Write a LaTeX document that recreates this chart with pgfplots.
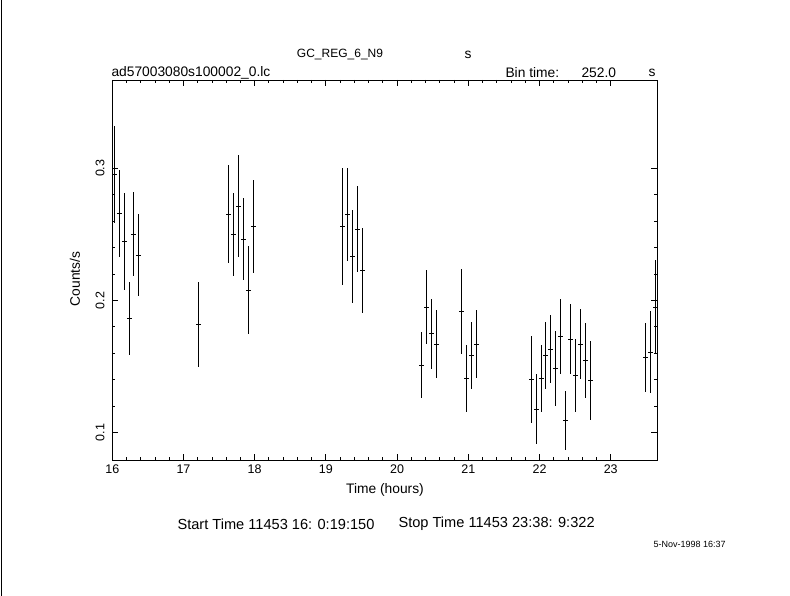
\documentclass[border=0pt]{standalone}
\usepackage{pgfplots}
\pgfplotsset{compat=1.18}
\usepackage{pgfplotstable}
\usepackage{fontspec}
\setmainfont{Liberation Sans}
\pgfplotstableread{
t v ex ey
16.028 0.2955 0.035 0.0367
16.098 0.2660 0.035 0.0328
16.169 0.2448 0.035 0.0367
16.235 0.1865 0.035 0.0275
16.301 0.2503 0.035 0.0315
16.371 0.2342 0.035 0.0309
17.208 0.1820 0.035 0.0320
17.629 0.2654 0.035 0.0370
17.699 0.2500 0.035 0.0315
17.770 0.2713 0.035 0.0384
17.840 0.2465 0.035 0.0310
17.910 0.2077 0.035 0.0334
17.980 0.2561 0.035 0.0353
19.230 0.2561 0.035 0.0440
19.301 0.2652 0.035 0.0350
19.371 0.2334 0.035 0.0353
19.441 0.2539 0.035 0.0324
19.511 0.2228 0.035 0.0320
20.340 0.1510 0.035 0.0250
20.410 0.1949 0.035 0.0278
20.480 0.1747 0.035 0.0263
20.551 0.1671 0.035 0.0260
20.902 0.1918 0.035 0.0324
20.972 0.1411 0.035 0.0256
21.042 0.1585 0.035 0.0256
21.112 0.1671 0.035 0.0260
21.885 0.1404 0.035 0.0331
21.955 0.1177 0.035 0.0266
22.025 0.1411 0.035 0.0256
22.090 0.1585 0.035 0.0256
22.160 0.1631 0.035 0.0256
22.230 0.1487 0.035 0.0286
22.300 0.1729 0.035 0.0282
22.371 0.1094 0.035 0.0225
22.441 0.1707 0.035 0.0263
22.511 0.1434 0.035 0.0278
22.581 0.1669 0.035 0.0263
22.652 0.1548 0.035 0.0282
22.722 0.1396 0.035 0.0301
23.486 0.1570 0.035 0.0260
23.556 0.1608 0.035 0.0310
23.626 0.1950 0.035 0.0358
}\lc
\begin{document}
\begin{tikzpicture}[font=\fontsize{13.8bp}{16bp}\selectfont]
\path[use as bounding box] (0bp,0bp) rectangle (790bp,-596bp);
\draw[line width=1bp] (1.5bp,0bp) -- (1.5bp,-596bp);
\begin{axis}[
  at={(112bp,-460bp)}, anchor=south west,
  width=545bp, height=380bp, scale only axis,
  xmin=15.996, xmax=23.65,
  ymin=0.07935, ymax=0.3668,
  axis line style={line width=0.9bp},
  xtick={16,17,...,23},
  ytick={0.1,0.2,0.3},
  minor x tick num=4,
  minor y tick num=4,
  major tick length=6bp,
  minor tick length=3bp,
  tick style={line width=0.9bp, black},
  tick align=inside,
  tick label style={font=\fontsize{12.5bp}{14bp}\selectfont},
  xticklabel style={yshift=-1bp},
  yticklabel style={rotate=90, anchor=south, yshift=4bp},
  /pgf/number format/assume math mode=true,
  yticklabel={\pgfmathprintnumber[fixed,precision=1]{\tick}},
  clip=true,
]
\addplot[black, line width=1bp, draw=none, mark=none,
  error bars/.cd, x dir=both, x explicit, y dir=both, y explicit,
  error mark=none, error bar style={line width=1bp, black}]
  table[x=t, y=v, x error=ex, y error=ey] {\lc};
\end{axis}
\node[font=\fontsize{12bp}{14bp}\selectfont] at (340bp,-55bp) {GC\_REG\_6\_N9};
\node at (468bp,-55bp) {s};
\node[anchor=west] at (108bp,-73bp) {ad57003080s100002\_0.lc};
\node[anchor=west] at (502bp,-73bp) {Bin time:};
\node[anchor=west] at (578bp,-73bp) {252.0};
\node at (652bp,-73bp) {s};
\node[rotate=90] at (75bp,-279bp) {Counts/s};
\node at (385bp,-490bp) {Time (hours)};
\node[anchor=west, font=\fontsize{14.6bp}{16bp}\selectfont] at (174bp,-524bp) {Start Time 11453 16: 0:19:150};
\node[anchor=west, font=\fontsize{14.6bp}{16bp}\selectfont] at (395bp,-524bp) {Stop Time 11453 23:38: 9:322};
\node[anchor=west, font=\fontsize{9bp}{11bp}\selectfont] at (650bp,-544bp) {5-Nov-1998 16:37};
\end{tikzpicture}
\end{document}
